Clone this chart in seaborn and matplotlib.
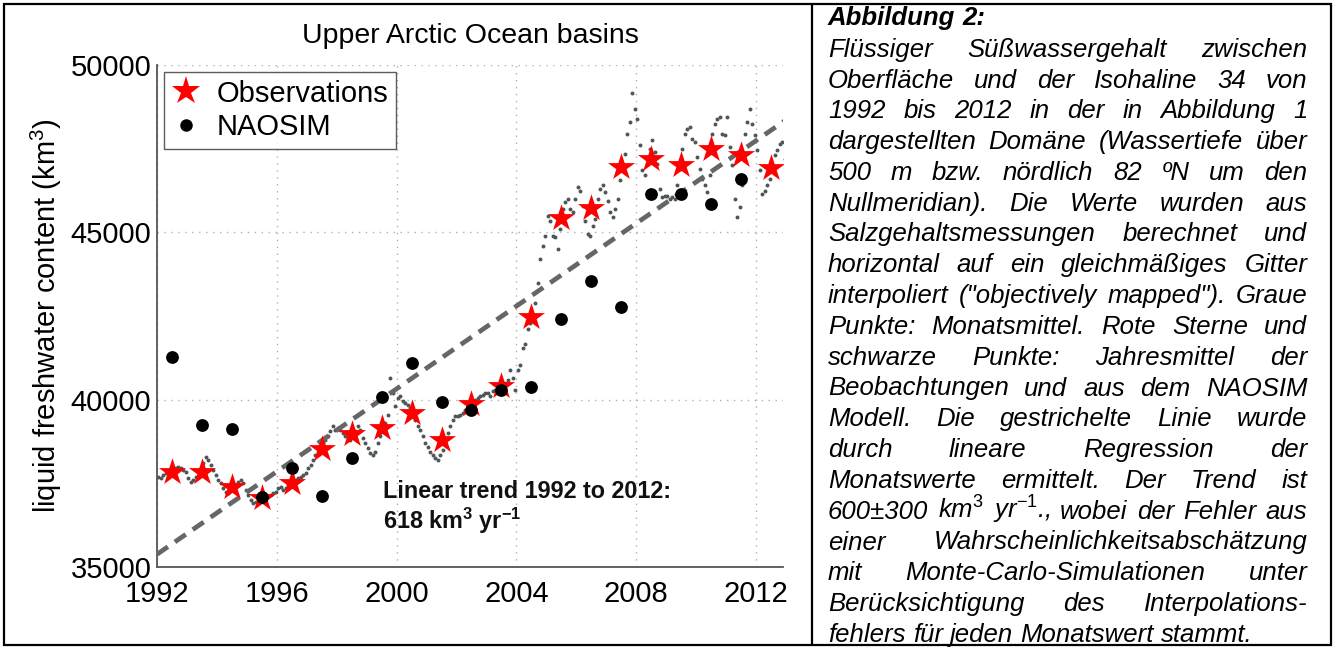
import numpy as np
import pandas as pd
import matplotlib
matplotlib.use("Agg")
import matplotlib.pyplot as plt
import seaborn as sns
from matplotlib.lines import Line2D
from matplotlib.patches import Rectangle

# ---------------- data ----------------
obs_years = [1992.5 + i for i in range(21)]
obs_values = [37850, 37850, 37400, 37070, 37500, 38540, 38960, 39160, 39610, 38790,
              39860, 40400, 42460, 45440, 45720, 46940, 47200, 47000, 47490, 47320, 46920]

naosim_years = [1992.5 + i for i in range(20)]
naosim_values = [41280, 39240, 39130, 37100, 37970, 37120, 38250, 40080, 41100, 39940,
                 39690, 40280, 40370, 42420, 43540, 42760, 46140, 46140, 45840, 46590]

monthly_years = list(range(1992, 2013))
monthly_values = [
    [37700, 37650, 37750, 37800, 37850, 37800, 37900, 37950, 38000, 37950, 37900, 37850],  # 1992
    [37650, 37550, 37600, 37700, 37850, 37950, 38100, 38300, 38200, 38050, 37900, 37750],  # 1993
    [37600, 37500, 37350, 37250, 37200, 37300, 37350, 37450, 37550, 37600, 37500, 37300],  # 1994
    [37150, 37000, 36900, 36950, 37050, 37100, 37000, 37050, 37100, 37150, 37200, 37250],  # 1995
    [37350, 37400, 37300, 37350, 37450, 37500, 37550, 37600, 37650, 37700, 37750, 37800],  # 1996
    [37950, 38050, 38200, 38350, 38450, 38550, 38700, 38800, 38900, 39050, 39200, 39100],  # 1997
    [39150, 39100, 39000, 38900, 38850, 38800, 38900, 39050, 39200, 39100, 38850, 38700],  # 1998
    [38550, 38400, 38350, 38450, 38700, 38900, 39100, 39300, 39550, 40650, 40200, 39800],  # 1999
    [40050, 40100, 39950, 39900, 39850, 39750, 39600, 39400, 39200, 39100, 38900, 38700],  # 2000
    [38600, 38450, 38350, 38250, 38200, 38350, 38500, 38700, 39000, 39200, 39400, 39500],  # 2001
    [39500, 39550, 39600, 39700, 39750, 39850, 39900, 40000, 40050, 40100, 40150, 40200],  # 2002
    [40200, 40100, 40250, 40300, 40350, 40400, 40450, 40500, 40600, 40900, 40650, 40300],  # 2003
    [40900, 41050, 41550, 41650, 42100, 42300, 42500, 42900, 43500, 44200, 44600, 44900],  # 2004
    [45500, 45350, 44900, 44850, 44500, 45100, 45700, 45900, 46000, 45700, 45600, 46000],  # 2005
    [46350, 46250, 45800, 45350, 44950, 44900, 45200, 45400, 46000, 46300, 46400, 46200],  # 2006
    [45950, 45600, 45450, 45700, 46000, 46550, 47000, 47350, 47950, 48300, 49150, 48700],  # 2007
    [48400, 47600, 46850, 46700, 47200, 47500, 47750, 47400, 47050, 46300, 46050, 46100],  # 2008
    [46100, 46000, 46050, 46000, 46400, 46900, 47500, 47950, 48100, 48150, 47800, 47700],  # 2009
    [47250, 46900, 46600, 46400, 46200, 46700, 47950, 48250, 48400, 48450, 47950, 47900],  # 2010
    [48450, 47550, 47000, 46000, 45450, 45750, 46400, 47950, 48300, 48700, 48250, 47900],  # 2011
    [47450, 46850, 46150, 46250, 46400, 46600, 46900, 47300, 47450, 47650, 47700, 47200],  # 2012
]

trend_years = [1992, 2013]
trend_start_value = 35380      # km^3 at 1992
trend_slope = 618              # km^3 / yr

x_ticks = [1992, 1996, 2000, 2004, 2008, 2012]
y_ticks = [35000, 40000, 45000, 50000]

title = "Upper Arctic Ocean basins"
ylabel = "liquid freshwater content (km$^3$)"
trend_text_1 = "Linear trend 1992 to 2012:"
trend_text_2 = r"618 km$^{\mathbf{3}}$ yr$^{\mathbf{-1}}$"

caption_head = "Abbildung 2:"
caption_lines = [
    "Flüssiger Süßwassergehalt zwischen",
    "Oberfläche und der Isohaline 34 von",
    "1992 bis 2012 in der in Abbildung 1",
    "dargestellten Domäne (Wassertiefe über",
    "500 m bzw. nördlich 82 ºN um den",
    "Nullmeridian). Die Werte wurden aus",
    "Salzgehaltsmessungen berechnet und",
    "horizontal auf ein gleichmäßiges Gitter",
    "interpoliert (\"objectively mapped\"). Graue",
    "Punkte: Monatsmittel. Rote Sterne und",
    "schwarze Punkte: Jahresmittel der",
    "Beobachtungen und aus dem NAOSIM",
    "Modell. Die gestrichelte Linie wurde",
    "durch lineare Regression der",
    "Monatswerte ermittelt. Der Trend ist",
    r"600±300 km$^{\mathit{3}}$ yr$^{\mathit{-1}}$., wobei der Fehler aus",
    "einer Wahrscheinlichkeitsabschätzung",
    "mit Monte-Carlo-Simulationen unter",
    "Berücksichtigung des Interpolations-",
    "fehlers für jeden Monatswert stammt.",
]

# ---------------- tables ----------------
m_t, m_v = [], []
for yr, vals in zip(monthly_years, monthly_values):
    for k, v in enumerate(vals):
        m_t.append(yr + (k + 0.5) / 12)
        m_v.append(v)
df_month = pd.DataFrame({"year": m_t, "fwc": m_v})
df_obs = pd.DataFrame({"year": obs_years, "fwc": obs_values})
df_nao = pd.DataFrame({"year": naosim_years, "fwc": naosim_values})
df_trend = pd.DataFrame({"year": trend_years,
                         "fwc": [trend_start_value + trend_slope * (y - trend_years[0]) for y in trend_years]})

# ---------------- style ----------------
sns.set_theme(style="white")
plt.rcParams["font.family"] = ["Liberation Sans", "DejaVu Sans"]
plt.rcParams["mathtext.fontset"] = "custom"
plt.rcParams["mathtext.rm"] = "Liberation Sans"
plt.rcParams["mathtext.it"] = "Liberation Sans:italic"
plt.rcParams["mathtext.bf"] = "Liberation Sans:bold"
plt.rcParams["text.color"] = "black"
plt.rcParams["axes.labelcolor"] = "black"
plt.rcParams["xtick.color"] = "black"
plt.rcParams["ytick.color"] = "black"

W, H = 1335, 648
fig = plt.figure(figsize=(W / 100, H / 100), dpi=100)
fig.patch.set_facecolor("white")

ax = fig.add_axes([157 / W, 1 - 567 / H, 626 / W, 502 / H])

sns.scatterplot(data=df_month, x="year", y="fwc", ax=ax, color="#4e5757", s=8,
                linewidth=0, zorder=2, legend=False)
sns.lineplot(data=df_trend, x="year", y="fwc", ax=ax, color="#666666", lw=3.4,
             linestyle=(0, (2.8, 1.8)), zorder=3, legend=False)
sns.scatterplot(data=df_obs, x="year", y="fwc", ax=ax, marker="*", s=420, color="#ff0000",
                linewidth=0, zorder=4, legend=False)
sns.scatterplot(data=df_nao, x="year", y="fwc", ax=ax, marker="o", s=85, color="black",
                linewidth=0, zorder=5, legend=False)

ax.set_xlim(1992, 2012.9)
ax.set_ylim(35000, 50000)
ax.set_xticks(x_ticks)
ax.set_yticks(y_ticks)
ax.set_xticklabels([str(t) for t in x_ticks])
ax.set_yticklabels([str(t) for t in y_ticks])
ax.tick_params(axis="both", direction="in", length=5, width=1, color="#555555",
               labelcolor="black", labelsize=21)
ax.tick_params(axis="x", pad=9)
ax.tick_params(axis="y", pad=4)
ax.grid(True, linestyle=(0, (1, 4)), color="#b0b0b0", lw=1.0, zorder=0)
for s in ["top", "right"]:
    ax.spines[s].set_visible(False)
for s in ["left", "bottom"]:
    ax.spines[s].set_color("#555555")
    ax.spines[s].set_linewidth(1.3)

ax.set_xlabel("")
ax.set_ylabel(ylabel, fontsize=21, labelpad=5, color="black")
ax.set_title(title, fontsize=20.5, pad=16, color="black")

ax.text(1999.53, 37261, trend_text_1, fontsize=16.8, fontweight="bold", va="center", ha="left",
        color="#111111", zorder=6)
ax.text(1999.53, 36366, trend_text_2, fontsize=16.8, fontweight="bold", va="center", ha="left",
        color="#111111", zorder=6)

handles = [Line2D([], [], marker="*", color="#ff0000", ls="", ms=21, mew=0),
           Line2D([], [], marker="o", color="black", ls="", ms=9, mew=0)]
leg = ax.legend(handles, ["Observations", "NAOSIM"], loc="upper left", bbox_to_anchor=(0, 1),
                fontsize=21, frameon=True, fancybox=False, borderaxespad=0.25,
                borderpad=0.25, labelspacing=0.2, handlelength=1.0, handletextpad=0.55)
leg.get_frame().set_edgecolor("#333333")
leg.get_frame().set_linewidth(1.0)
for t in leg.get_texts():
    t.set_color("black")
leg.set_zorder(10)

# ---------------- borders ----------------
fig.add_artist(Rectangle((4 / W, 1 - 645 / H), (1331 - 4) / W, (645 - 4) / H,
                         transform=fig.transFigure, fill=False, edgecolor="black", lw=1.6))
fig.add_artist(Line2D([812 / W, 812 / W], [1 - 645 / H, 1 - 4 / H],
                      transform=fig.transFigure, color="black", lw=1.6))

# ---------------- caption (justified) ----------------
renderer = fig.canvas.get_renderer()
left_px, right_px = 828, 1307.5
cap_fs = 18.5
space_px = 0.278 * cap_fs * 100 / 72


def draw_line(text, y_px, justify, **kw):
    words = text.split(" ")
    texts = [fig.text(0, 0, w, ha="left", va="baseline", fontsize=cap_fs, color="black", **kw)
             for w in words]
    widths = [t.get_window_extent(renderer).width for t in texts]
    if justify and len(words) > 1:
        gap = (right_px - left_px - sum(widths)) / (len(words) - 1)
    else:
        gap = space_px
    x = left_px
    for t, w in zip(texts, widths):
        t.set_position((x / W, 1 - y_px / H))
        x += w + gap


draw_line(caption_head, 25.0, False, style="italic", fontweight="bold")
for i, line in enumerate(caption_lines):
    y = 56.7 + i * 30.8
    last = i == len(caption_lines) - 1
    draw_line(line, y, not last, style="italic")

fig.savefig("out.png", dpi=100, facecolor="white")
